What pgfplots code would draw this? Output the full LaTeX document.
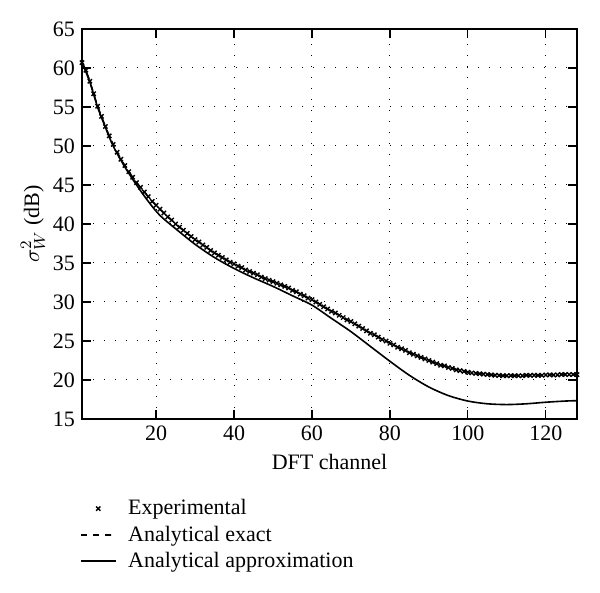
\documentclass[border=0pt]{standalone}
\usepackage{fontspec}
\setmainfont{Liberation Serif}
\usepackage{pgfplots}
\usepackage{pgfplotstable}
\pgfplotsset{compat=1.18}

% channel, experimental, analytical exact
\pgfplotstableread{
ch exp exact
1 60.7 60.7
2 59.7 59.7
3 58.3 58.3
4 56.7 56.7
5 55.1 55.1
6 53.8 53.8
7 52.5 52.5
8 51.3 51.3
9 50.2 50.2
10 49.2 49.2
11 48.3 48.3
12 47.5 47.5
13 46.7 46.7
14 46.0 46.0
15 45.3 45.3
16 44.7 44.7
17 44.1 44.1
18 43.5 43.5
19 42.9 42.9
20 42.4 42.4
21 41.9 41.9
22 41.4 41.4
23 40.9 40.9
24 40.5 40.5
25 40.0 40.0
26 39.6 39.6
27 39.2 39.2
28 38.8 38.8
29 38.4 38.4
30 38.0 38.0
31 37.7 37.7
32 37.3 37.3
33 37.0 37.0
34 36.6 36.6
35 36.3 36.3
36 36.0 36.0
37 35.7 35.7
38 35.4 35.4
39 35.1 35.1
40 34.9 34.9
41 34.6 34.6
42 34.4 34.4
43 34.1 34.1
44 33.9 33.9
45 33.7 33.7
46 33.5 33.5
47 33.2 33.2
48 33.0 33.0
49 32.8 32.8
50 32.6 32.6
51 32.4 32.4
52 32.2 32.2
53 32.0 32.0
54 31.8 31.8
55 31.5 31.5
56 31.3 31.3
57 31.0 31.0
58 30.8 30.8
59 30.5 30.5
60 30.3 30.3
61 30.0 30.0
62 29.7 29.7
63 29.4 29.4
64 29.1 29.1
65 28.8 28.8
66 28.6 28.6
67 28.3 28.3
68 28.0 28.0
69 27.7 27.7
70 27.5 27.5
71 27.2 27.2
72 26.9 26.9
73 26.6 26.6
74 26.3 26.3
75 26.0 26.0
76 25.8 25.8
77 25.5 25.5
78 25.2 25.2
79 25.0 25.0
80 24.7 24.7
81 24.5 24.5
82 24.2 24.2
83 24.0 24.0
84 23.8 23.8
85 23.5 23.5
86 23.3 23.3
87 23.1 23.1
88 22.9 22.9
89 22.7 22.7
90 22.5 22.5
91 22.3 22.3
92 22.1 22.1
93 21.9 21.9
94 21.8 21.8
95 21.6 21.6
96 21.5 21.5
97 21.3 21.3
98 21.2 21.2
99 21.1 21.1
100 21.0 21.0
101 20.9 20.9
102 20.85 20.85
103 20.8 20.8
104 20.75 20.75
105 20.7 20.7
106 20.65 20.65
107 20.6 20.6
108 20.6 20.6
109 20.55 20.55
110 20.55 20.55
111 20.55 20.55
112 20.55 20.55
113 20.55 20.55
114 20.55 20.55
115 20.6 20.6
116 20.6 20.6
117 20.6 20.6
118 20.6 20.6
119 20.6 20.6
120 20.65 20.65
121 20.65 20.65
122 20.65 20.65
123 20.65 20.65
124 20.7 20.7
125 20.7 20.7
126 20.7 20.7
127 20.7 20.7
128 20.7 20.7
}\exptable

% analytical approximation
\pgfplotstableread{
ch approx
1 60.7
3 58.2
5 55.0
7 52.4
9 50.0
12 47.3
15 45.0
18 42.9
21 41.1
25 39.4
30 37.4
35 35.7
40 34.3
45 33.1
50 32.0
55 30.8
60 29.6
65 27.9
70 26.2
75 24.3
80 22.4
85 20.6
90 19.1
95 18.0
100 17.3
105 16.95
110 16.85
115 16.95
120 17.15
125 17.3
128 17.35
}\approxtable

\begin{document}
\begin{tikzpicture}
\begin{axis}[
    scale only axis,
    width=247.5pt, height=195pt,
    xmin=1, xmax=128,
    ymin=15, ymax=65,
    xtick={20,40,...,120},
    ytick={15,20,...,65},
    tick align=inside,
    tick pos=both,
    grid=major,
    major grid style={black, line width=0.5pt, dash pattern=on 0.5pt off 5pt},
    axis line style={line width=0.7pt},
    tick style={black, line width=0.6pt},
    font=\fontsize{11}{13}\selectfont,
    /pgf/number format/assume math mode=true,
    xlabel={DFT channel},
    ylabel={$\sigma_W^2$ (dB)},
    ylabel style={yshift=-3pt},
    legend cell align=left,
    legend style={at={(0,-0.185)}, xshift=-4pt, anchor=north west, draw=none, fill=none,
        font=\fontsize{11}{13}\selectfont, row sep=0pt, column sep=4pt},
]
\addplot[only marks, mark=x, mark size=1.5pt, black, line width=0.7pt]
    table[x=ch, y=exp] {\exptable};
\addplot[black, dashed, line width=0.8pt, smooth]
    table[x=ch, y=exact] {\exptable};
\addplot[black, line width=0.8pt, smooth]
    table[x=ch, y=approx] {\approxtable};
\legend{Experimental, Analytical exact, Analytical approximation}
\end{axis}
\path (-41pt,-87pt) rectangle (259pt,209.5pt);
\end{tikzpicture}
\end{document}
